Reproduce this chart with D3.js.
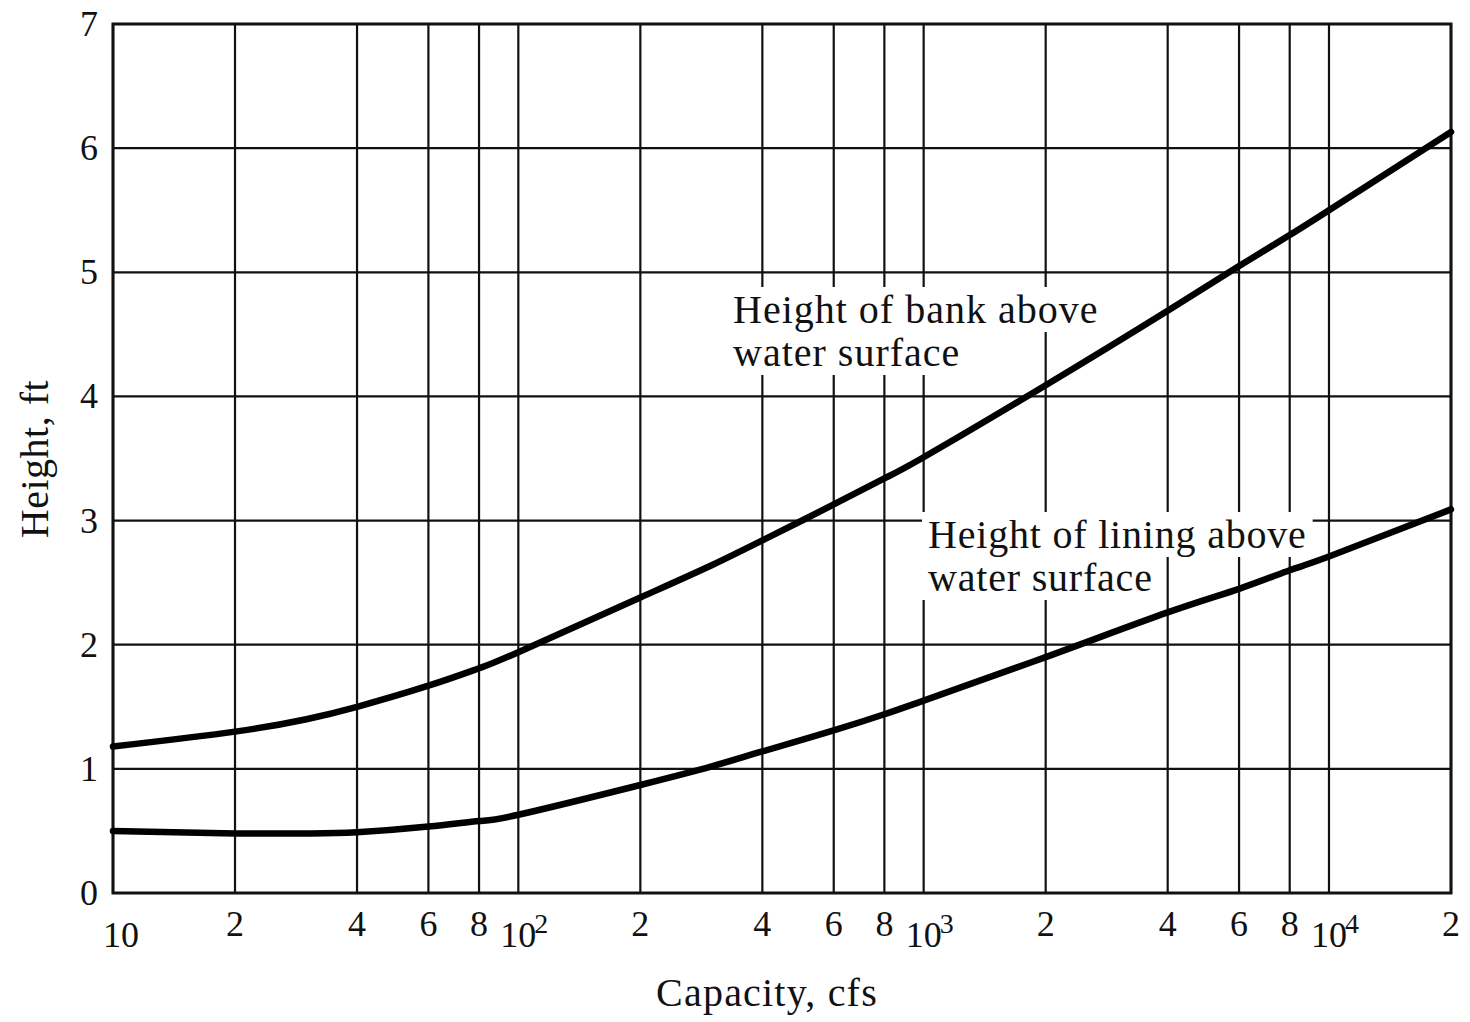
<!DOCTYPE html>
<html>
<head>
<meta charset="utf-8">
<script src="https://cdn.jsdelivr.net/npm/d3@7"></script>
<style>
  html, body { margin: 0; padding: 0; background: #fff; }
  svg { display: block; }
  text { font-family: "Liberation Serif", "DejaVu Serif", serif; fill: #111; }
</style>
</head>
<body>
<svg id="chart" width="1470" height="1022"></svg>
<script>
// ---- data ----
const capacity = [10, 20, 30, 40, 60, 80, 100, 200, 300, 400, 600, 800, 1000, 2000, 4000, 6000, 8000, 10000, 20000];
const bankHeight = [1.18, 1.30, 1.40, 1.50, 1.67, 1.81, 1.94, 2.38, 2.64, 2.84, 3.13, 3.34, 3.51, 4.09, 4.69, 5.05, 5.30, 5.50, 6.13];
const liningHeight = [0.50, 0.48, 0.48, 0.49, 0.535, 0.58, 0.63, 0.87, 1.02, 1.14, 1.31, 1.44, 1.55, 1.90, 2.26, 2.45, 2.60, 2.71, 3.09];

const xTickValues = [10, 20, 40, 60, 80, 100, 200, 400, 600, 800, 1000, 2000, 4000, 6000, 8000, 10000, 20000];
const xTickBase   = ["10", "2", "4", "6", "8", "10", "2", "4", "6", "8", "10", "2", "4", "6", "8", "10", "2"];
const xTickExp    = ["", "", "", "", "", "2", "", "", "", "", "3", "", "", "", "", "4", ""];
const yTickValues = [0, 1, 2, 3, 4, 5, 6, 7];
const yTickLabels = ["0", "1", "2", "3", "4", "5", "6", "7"];

const xTitle = "Capacity, cfs";
const yTitle = "Height, ft";
const bankLabel = ["Height of bank above", "water surface"];
const liningLabel = ["Height of lining above", "water surface"];

// ---- layout ----
const svg = d3.select("#chart");
const pLeft = 113, pRight = 1451, pTop = 24, pBottom = 893;

const x = d3.scaleLog().domain([10, 20000]).range([pLeft, pRight]);
const y = d3.scaleLinear().domain([0, 7]).range([pBottom, pTop]);

// gridlines
const grid = svg.append("g").attr("stroke", "#111").attr("stroke-width", 2.2);
grid.selectAll("line.v").data(xTickValues).join("line").attr("class", "v")
  .attr("x1", d => x(d)).attr("x2", d => x(d))
  .attr("y1", pTop).attr("y2", pBottom);
grid.selectAll("line.h").data(yTickValues).join("line").attr("class", "h")
  .attr("x1", pLeft).attr("x2", pRight)
  .attr("y1", d => y(d)).attr("y2", d => y(d));

// frame
svg.append("rect")
  .attr("x", pLeft).attr("y", pTop)
  .attr("width", pRight - pLeft).attr("height", pBottom - pTop)
  .attr("fill", "none").attr("stroke", "#111").attr("stroke-width", 3);

// x tick labels
const xl = svg.append("g").attr("font-size", 36);
xTickValues.forEach((v, i) => {
  const isPow = xTickExp[i] !== "" || i === 0;
  xl.append("text")
    .attr("x", x(v) + (i === 0 ? 8 : 0))
    .attr("y", isPow ? 947 : 936)
    .attr("text-anchor", "middle")
    .text(xTickBase[i]);
  if (xTickExp[i] !== "") {
    xl.append("text")
      .attr("x", x(v) + 16)
      .attr("y", 933)
      .attr("font-size", 28)
      .attr("text-anchor", "start")
      .text(xTickExp[i]);
  }
});

// y tick labels
svg.append("g").attr("font-size", 36)
  .selectAll("text").data(yTickValues).join("text")
  .attr("x", 98)
  .attr("y", d => y(d) + 12)
  .attr("text-anchor", "end")
  .text((d, i) => yTickLabels[i]);

// axis titles
svg.append("text")
  .attr("x", 767).attr("y", 1006)
  .attr("text-anchor", "middle").attr("font-size", 40)
  .attr("letter-spacing", 1.2)
  .text(xTitle);
svg.append("text")
  .attr("transform", "translate(48,459) rotate(-90)")
  .attr("text-anchor", "middle").attr("font-size", 40)
  .attr("letter-spacing", 0.5)
  .text(yTitle);

// annotations with white backing
function annotate(lines, x0, baselines, size, spacing) {
  const g = svg.append("g");
  const bg = g.append("g");
  lines.forEach((s, i) => {
    const t = g.append("text")
      .attr("x", x0).attr("y", baselines[i])
      .attr("font-size", size)
      .attr("letter-spacing", spacing)
      .text(s);
    const b = t.node().getBBox();
    bg.append("rect")
      .attr("x", b.x - 6).attr("y", b.y)
      .attr("width", b.width + 12).attr("height", b.height)
      .attr("fill", "#fff");
  });
}
annotate(bankLabel, 733, [323, 366], 40, 1.0);
annotate(liningLabel, 928, [548, 591], 40, 0.8);

// curves
const line = d3.line()
  .x((d, i) => x(capacity[i]))
  .y(d => y(d))
  .curve(d3.curveNatural);
[bankHeight, liningHeight].forEach(series => {
  svg.append("path")
    .attr("d", line(series))
    .attr("fill", "none")
    .attr("stroke", "#000")
    .attr("stroke-width", 6.5)
    .attr("stroke-linecap", "round")
    .attr("stroke-linejoin", "round");
});
</script>
</body>
</html>
